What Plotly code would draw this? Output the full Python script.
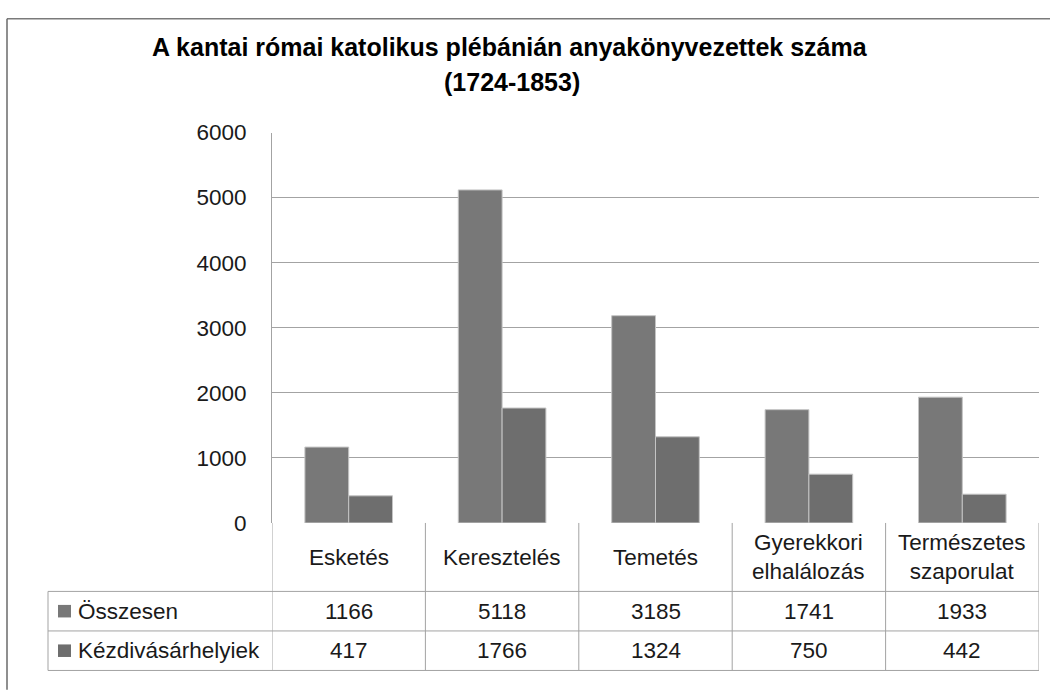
import plotly.graph_objects as go

categories = ["Esketés", "Keresztelés", "Temetés", "Gyerekkori elhalálozás", "Természetes szaporulat"]
category_labels = ["Esketés", "Keresztelés", "Temetés", "Gyerekkori<br>elhalálozás", "Természetes<br>szaporulat"]
series_names = ["Összesen", "Kézdivásárhelyiek"]
osszesen = [1166, 5118, 3185, 1741, 1933]
kezdivasarhelyiek = [417, 1766, 1324, 750, 442]
series_values = [osszesen, kezdivasarhelyiek]
series_colors = ["#787878", "#6e6e6e"]
y_ticks = [0, 1000, 2000, 3000, 4000, 5000, 6000]

W, H = 1050, 696
def px(x):
    return x / W
def py(y):
    return (H - y) / H

TXT = "Liberation Sans, Arial, sans-serif"
FS = 22.5
LINE = "#a3a3a3"

fig = go.Figure()
for name, vals, col in zip(series_names, series_values, series_colors):
    fig.add_trace(go.Bar(
        x=categories, y=vals, name=name,
        marker=dict(color=col, line=dict(color="#c4c4c4", width=1)),
        showlegend=False,
    ))

x0, x1 = 272, 1039
y_zero, y_top = 530, 125
row_top, row1, row2, row_bot = 530, 601, 642, 683
table_left = 48

shapes = []
# outer chart border (top and left)
shapes.append(dict(type="line", xref="paper", yref="paper", x0=px(7), x1=1.01, y0=py(7), y1=py(7),
                   line=dict(color="#7a7a7a", width=1.5)))
shapes.append(dict(type="line", xref="paper", yref="paper", x0=px(7), x1=px(7), y0=py(7), y1=-0.01,
                   line=dict(color="#6a6a6a", width=1.5)))
# data table grid: vertical lines at category edges
n = len(categories)
for i in range(n + 1):
    shapes.append(dict(type="line", xref="x", yref="paper", x0=i - 0.5, x1=i - 0.5,
                       y0=py(row_top), y1=py(row_bot), line=dict(color=LINE, width=1)))
for yy in [row1, row2, row_bot]:
    shapes.append(dict(type="line", xref="paper", yref="paper", x0=px(table_left), x1=px(x1),
                       y0=py(yy), y1=py(yy), line=dict(color=LINE, width=1)))
shapes.append(dict(type="line", xref="paper", yref="paper", x0=px(table_left), x1=px(table_left),
                   y0=py(row1), y1=py(row_bot), line=dict(color=LINE, width=1)))

annotations = []
annotations.append(dict(text="<b>A kantai római katolikus plébánián anyakönyvezettek száma</b>",
                        xref="paper", yref="paper", x=px(510), y=py(36), xanchor="center", yanchor="middle",
                        showarrow=False, font=dict(family=TXT, size=25, color="#000000")))
annotations.append(dict(text="<b>(1724-1853)</b>",
                        xref="paper", yref="paper", x=px(512), y=py(73), xanchor="center", yanchor="middle",
                        showarrow=False, font=dict(family=TXT, size=25, color="#000000")))
cat_center = (row_top + row1) / 2
for c, lab in zip(categories, category_labels):
    annotations.append(dict(text=lab, xref="x", yref="paper", x=c, y=py(cat_center),
                            xanchor="center", yanchor="middle", showarrow=False,
                            font=dict(family=TXT, size=FS, color="#1a1a1a")))
row_centers = [(row1 + row2) / 2, (row2 + row_bot) / 2]
for rc, name, vals, col in zip(row_centers, series_names, series_values, series_colors):
    shapes.append(dict(type="rect", xref="paper", yref="paper", x0=px(58), x1=px(71),
                       y0=py(rc + 6.5), y1=py(rc - 6.5), fillcolor=col, line=dict(width=0)))
    annotations.append(dict(text=name, xref="paper", yref="paper", x=px(76), y=py(rc),
                            xanchor="left", yanchor="middle", showarrow=False,
                            font=dict(family=TXT, size=FS, color="#1a1a1a")))
    for c, v in zip(categories, vals):
        annotations.append(dict(text=str(v), xref="x", yref="paper", x=c, y=py(rc),
                                xanchor="center", yanchor="middle", showarrow=False,
                                font=dict(family=TXT, size=FS, color="#1a1a1a")))

fig.update_layout(
    width=W, height=H,
    margin=dict(l=0, r=0, t=0, b=0),
    paper_bgcolor="white", plot_bgcolor="white",
    barmode="group", bargap=0.429, bargroupgap=0,
    shapes=shapes, annotations=annotations,
    xaxis=dict(domain=[px(x0), px(x1)], range=[-0.5, n - 0.5], showticklabels=False,
               showgrid=False, zeroline=False, showline=False, fixedrange=True),
    yaxis=dict(domain=[py(y_zero), py(y_top)], range=[0, 6000], tickvals=y_ticks,
               showgrid=True, gridcolor=LINE, gridwidth=1, zeroline=False,
               showline=True, linecolor=LINE, linewidth=1, ticks="",
               ticklabelstandoff=20,
               tickfont=dict(family=TXT, size=FS, color="#1a1a1a")),
)

fig.write_html("out.html", config={"displayModeBar": False},
               post_script="document.body.style.margin='0';document.body.style.overflow='hidden';")
